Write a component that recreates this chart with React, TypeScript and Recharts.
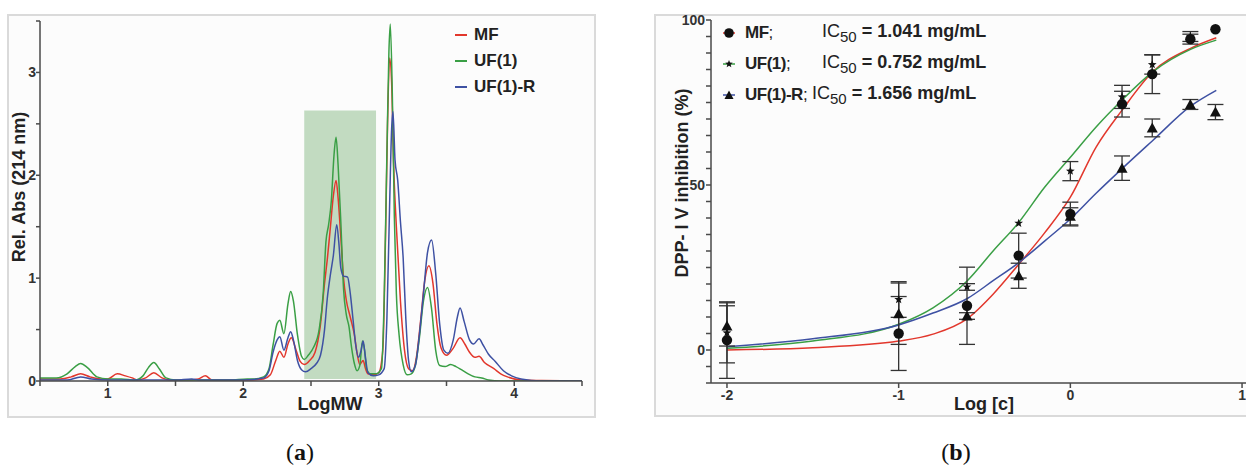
import React from "react";
import {
  LineChart,
  ComposedChart,
  Line,
  Scatter,
  ErrorBar,
  XAxis,
  YAxis,
  ReferenceArea,
} from "recharts";

// ---- panel (a): SEC chromatograms, [logMW, rel. abs] ----
const mfTrace = [
  [0.5, 0.02], [0.65, 0.02], [0.73, 0.04], [0.8, 0.07], [0.87, 0.04], [0.95, 0.02], [1.0, 0.02],
  [1.07, 0.07], [1.13, 0.05], [1.18, 0.03], [1.22, 0.01], [1.28, 0.03], [1.34, 0.08], [1.4, 0.03],
  [1.46, 0.01], [1.6, 0.01], [1.67, 0.02], [1.72, 0.05], [1.77, 0.01], [1.9, 0.01], [2.05, 0.01],
  [2.15, 0.02], [2.2, 0.06], [2.24, 0.2], [2.27, 0.29], [2.3, 0.23], [2.33, 0.36], [2.355, 0.42],
  [2.39, 0.3], [2.42, 0.19], [2.45, 0.16], [2.49, 0.2], [2.53, 0.28], [2.57, 0.55], [2.6, 0.95],
  [2.62, 1.18], [2.64, 1.45], [2.665, 1.8], [2.685, 1.95], [2.7, 1.78], [2.72, 1.4], [2.74, 1.0],
  [2.76, 0.79], [2.79, 0.62], [2.82, 0.45], [2.84, 0.27], [2.86, 0.16], [2.885, 0.2], [2.9, 0.13],
  [2.92, 0.07], [2.96, 0.06], [3.0, 0.08], [3.03, 0.3], [3.05, 1.4], [3.065, 2.5], [3.08, 3.14],
  [3.095, 2.9], [3.11, 2.1], [3.13, 1.5], [3.16, 0.78], [3.19, 0.3], [3.22, 0.12], [3.25, 0.1],
  [3.28, 0.25], [3.31, 0.6], [3.34, 0.98], [3.37, 1.12], [3.4, 0.95], [3.43, 0.55], [3.46, 0.32],
  [3.5, 0.25], [3.55, 0.32], [3.6, 0.42], [3.635, 0.36], [3.67, 0.28], [3.71, 0.23], [3.74, 0.24],
  [3.78, 0.18], [3.85, 0.12], [3.9, 0.07], [3.95, 0.04], [4.05, 0.01], [4.2, 0.005], [4.5, 0],
];

const uf1Trace = [
  [0.5, 0.03], [0.62, 0.03], [0.7, 0.07], [0.76, 0.14], [0.8, 0.17], [0.85, 0.13], [0.92, 0.04],
  [1.0, 0.02], [1.1, 0.02], [1.2, 0.01], [1.26, 0.05], [1.3, 0.13], [1.34, 0.18], [1.38, 0.12],
  [1.43, 0.03], [1.5, 0.01], [1.7, 0.01], [1.9, 0.01], [2.03, 0.02], [2.08, 0.02], [2.15, 0.04],
  [2.19, 0.12], [2.22, 0.35], [2.25, 0.56], [2.27, 0.59], [2.3, 0.46], [2.33, 0.75], [2.35, 0.87],
  [2.37, 0.78], [2.4, 0.45], [2.43, 0.24], [2.45, 0.21], [2.48, 0.25], [2.52, 0.33], [2.56, 0.5],
  [2.59, 0.85], [2.61, 1.35], [2.63, 1.52], [2.65, 1.75], [2.67, 2.2], [2.685, 2.37], [2.7, 2.1],
  [2.72, 1.55], [2.74, 0.9], [2.76, 0.65], [2.78, 0.53], [2.8, 0.32], [2.82, 0.17], [2.84, 0.1],
  [2.86, 0.15], [2.88, 0.39], [2.895, 0.3], [2.91, 0.12], [2.94, 0.07], [2.98, 0.07], [3.02, 0.12],
  [3.04, 0.8], [3.06, 2.2], [3.075, 3.2], [3.085, 3.47], [3.1, 2.8], [3.115, 1.6], [3.13, 0.85],
  [3.15, 0.45], [3.18, 0.16], [3.21, 0.06], [3.24, 0.07], [3.27, 0.15], [3.3, 0.42], [3.33, 0.78],
  [3.36, 0.91], [3.39, 0.7], [3.42, 0.3], [3.45, 0.15], [3.49, 0.14], [3.53, 0.16], [3.57, 0.14],
  [3.61, 0.11], [3.66, 0.07], [3.71, 0.04], [3.76, 0.03], [3.81, 0.01], [3.9, 0], [4.5, 0],
];

const uf1rTrace = [
  [0.5, 0.01], [0.7, 0.01], [0.8, 0.04], [0.88, 0.02], [1.0, 0.01], [1.1, 0.01], [1.34, 0.01],
  [1.5, 0.01], [1.62, 0.02], [1.68, 0.01], [1.8, 0.01], [2.0, 0.01], [2.15, 0.03], [2.19, 0.1],
  [2.22, 0.28], [2.25, 0.4], [2.27, 0.43], [2.3, 0.3], [2.33, 0.42], [2.35, 0.48], [2.37, 0.4],
  [2.4, 0.2], [2.43, 0.11], [2.46, 0.09], [2.5, 0.12], [2.54, 0.17], [2.57, 0.25], [2.6, 0.5],
  [2.62, 0.8], [2.645, 1.05], [2.665, 1.22], [2.69, 1.52], [2.705, 1.35], [2.72, 1.1], [2.74, 1.02],
  [2.77, 1.01], [2.79, 0.85], [2.81, 0.6], [2.83, 0.35], [2.85, 0.23], [2.87, 0.3], [2.885, 0.39],
  [2.9, 0.25], [2.92, 0.08], [2.96, 0.05], [3.0, 0.06], [3.04, 0.12], [3.06, 0.6], [3.08, 1.7],
  [3.095, 2.45], [3.105, 2.62], [3.12, 2.15], [3.14, 1.95], [3.16, 1.55], [3.18, 1.2], [3.2, 0.6],
  [3.22, 0.2], [3.24, 0.09], [3.27, 0.15], [3.3, 0.45], [3.33, 0.85], [3.36, 1.25], [3.39, 1.37],
  [3.42, 1.05], [3.45, 0.55], [3.48, 0.3], [3.51, 0.27], [3.55, 0.4], [3.58, 0.62], [3.6, 0.71],
  [3.63, 0.58], [3.67, 0.4], [3.7, 0.36], [3.74, 0.41], [3.77, 0.35], [3.81, 0.26], [3.86, 0.19],
  [3.92, 0.1], [3.98, 0.05], [4.05, 0.02], [4.2, 0], [4.5, 0],
];

const activeRange = [2.45, 2.98];
const activeTop = 2.63;
const logMwTicks = [0.5, 1, 1.5, 2, 2.5, 3, 3.5, 4, 4.5];

// ---- panel (b): DPP-IV inhibition ----
const logC = [-2, -1, -0.602, -0.301, 0, 0.301, 0.477, 0.699, 0.845];
const mfMean = [3.0, 5.0, 13.4, 28.6, 41.2, 74.5, 83.6, 94.2, 97.2];
const mfErr = [11.6, 11.2, 11.7, 6.8, 3.6, 3.9, 5.9, 1.5, 0];
const uf1Mean = [5.2, 15.3, 19.1, 38.4, 54.2, 76.7, 86.5, 95.0];
const uf1Err = [9.1, 5.4, 1.0, 0, 2.9, 3.5, 2.9, 1.5];
const uf1rMean = [7.3, 11.0, 10.3, 22.5, 40.5, 55.1, 67.3, 74.4, 72.1];
const uf1rErr = [6.1, 9.3, 1.0, 3.8, 2.6, 3.7, 2.7, 1.5, 2.3];

const fitX = [-2, -1.5, -1, -0.8, -0.6, -0.45, -0.3, -0.15, 0, 0.15, 0.3, 0.48, 0.7, 0.85];
const mfFit = [0, 0.7, 2.7, 4.8, 9.5, 16.9, 26, 35.5, 46.3, 61.5, 72.6, 84.3, 91.4, 94.6];
const uf1Fit = [0.5, 2.7, 7.8, 12.8, 21, 30, 38.7, 49.3, 58.4, 67.6, 75.7, 84.3, 91.1, 93.9];
const uf1rFit = [1.0, 3.4, 7.6, 11.2, 15.6, 21, 26.5, 33, 39.7, 47.5, 54.9, 63.5, 73.9, 78.7];

const RED = "#e2372c";
const GREEN = "#3a9f45";
const BLUE = "#3e51a3";
const AXIS = "#4a4a4a";
const SANS = "'Liberation Sans', Arial, sans-serif";

const toPts = (arr: number[][]) => arr.map(([x, y]) => ({ x, y }));
const zipPts = (xs: number[], ys: number[], es?: number[]) =>
  ys.map((y, i) => ({ x: xs[i], y, e: es ? es[i] : 0 }));

const stepTicks = (a: number, b: number, step: number) => {
  const out: number[] = [];
  for (let v = a; v <= b + 1e-9; v += step) out.push(Math.round(v * 100) / 100);
  return out;
};

const tickStyle = { fontFamily: SANS, fontSize: 14, fontWeight: 700, fill: "#333" };
const intOnly = (v: number) => (Math.abs(v - Math.round(v)) < 1e-6 ? String(Math.round(v)) : "");
const bLabels = (v: number) => (v === 0 || v === 50 || v === 100 ? String(v) : "");

// x tick for panel a: label whole numbers, leave half steps blank
const renderLogMwTick = (props: any) => {
  const { x, y, payload } = props;
  const label = intOnly(Number(payload.value));
  return (
    <text key={`t-${payload.value}`} x={x} y={y} dy="0.71em" textAnchor="middle" {...tickStyle}>
      {label}
    </text>
  );
};

// marker shapes (pixel sizes only)
const dotShape = (p: any) => <circle cx={p.cx} cy={p.cy} r={5.2} fill="#111" />;
const triShape = (p: any) => (
  <polygon
    points={`${p.cx},${p.cy - 5.5} ${p.cx + 5.5},${p.cy + 4.5} ${p.cx - 5.5},${p.cy + 4.5}`}
    fill="#111"
  />
);
const starPoints = (cx: number, cy: number, R: number, r: number) => {
  const pts: string[] = [];
  for (let k = 0; k < 10; k++) {
    const a = -Math.PI / 2 + (k * Math.PI) / 5;
    const rad = k % 2 === 0 ? R : r;
    pts.push(`${(cx + rad * Math.cos(a)).toFixed(2)},${(cy + rad * Math.sin(a)).toFixed(2)}`);
  }
  return pts.join(" ");
};
const starShape = (p: any) => <polygon points={starPoints(p.cx, p.cy, 4.6, 1.9)} fill="#111" />;

function ChromPanel() {
  return (
    <LineChart
      width={600}
      height={430}
      margin={{ top: 21, right: 18, bottom: 19, left: 10 }}
    >
      <XAxis
        type="number"
        dataKey="x"
        domain={[0.5, 4.5]}
        ticks={logMwTicks}
        interval={0}
        minTickGap={0}
        allowDataOverflow
        height={30}
        stroke={AXIS}
        strokeWidth={1.5}
        tickSize={5}
        tickMargin={2}
        tick={renderLogMwTick}
      />
      <YAxis
        type="number"
        dataKey="y"
        domain={[0, 3.5]}
        ticks={stepTicks(0, 3.5, 0.5)}
        interval={0}
        allowDataOverflow
        width={30}
        stroke={AXIS}
        strokeWidth={1.5}
        tickSize={4}
        tickMargin={0}
        tick={tickStyle}
        tickFormatter={intOnly}
      />
      <ReferenceArea
        x1={activeRange[0]}
        x2={activeRange[1]}
        y1={0.02}
        y2={activeTop}
        fill="#c2dbc1"
        fillOpacity={1}
        stroke="none"
        ifOverflow="visible"
      />
      <Line data={toPts(mfTrace)} dataKey="y" type="monotone" stroke={RED} strokeWidth={1.5} dot={false} isAnimationActive={false} />
      <Line data={toPts(uf1Trace)} dataKey="y" type="monotone" stroke={GREEN} strokeWidth={1.5} dot={false} isAnimationActive={false} />
      <Line data={toPts(uf1rTrace)} dataKey="y" type="monotone" stroke={BLUE} strokeWidth={1.5} dot={false} isAnimationActive={false} />
    </LineChart>
  );
}

function DoseRespPanel() {
  return (
    <ComposedChart
      width={606}
      height={430}
      margin={{ top: 20, right: 0, bottom: 17, left: 31 }}
    >
      <XAxis
        type="number"
        dataKey="x"
        domain={[-2.093, 1.023]}
        ticks={[-2, -1, 0, 1]}
        interval={0}
        allowDataOverflow
        height={30}
        stroke={AXIS}
        strokeWidth={1.5}
        tickSize={5}
        tickMargin={2}
        tick={tickStyle}
      />
      <YAxis
        type="number"
        dataKey="y"
        domain={[-10, 100]}
        ticks={stepTicks(-10, 100, 5)}
        interval={0}
        allowDataOverflow
        width={40}
        stroke={AXIS}
        strokeWidth={1.5}
        tickSize={5}
        tickMargin={1}
        tick={tickStyle}
        tickFormatter={bLabels}
      />
      <Line data={zipPts(fitX, mfFit)} dataKey="y" type="monotone" stroke={RED} strokeWidth={1.5} dot={false} isAnimationActive={false} />
      <Line data={zipPts(fitX, uf1Fit)} dataKey="y" type="monotone" stroke={GREEN} strokeWidth={1.5} dot={false} isAnimationActive={false} />
      <Line data={zipPts(fitX, uf1rFit)} dataKey="y" type="monotone" stroke={BLUE} strokeWidth={1.5} dot={false} isAnimationActive={false} />
      <Scatter data={zipPts(logC, uf1rMean, uf1rErr)} dataKey="y" shape={triShape} fill="#111" isAnimationActive={false}>
        <ErrorBar dataKey="e" direction="y" width={8} stroke="#333" strokeWidth={1.3} />
      </Scatter>
      <Scatter data={zipPts(logC, uf1Mean, uf1Err)} dataKey="y" shape={starShape} fill="#111" isAnimationActive={false}>
        <ErrorBar dataKey="e" direction="y" width={8} stroke="#333" strokeWidth={1.3} />
      </Scatter>
      <Scatter data={zipPts(logC, mfMean, mfErr)} dataKey="y" shape={dotShape} fill="#111" isAnimationActive={false}>
        <ErrorBar dataKey="e" direction="y" width={8} stroke="#333" strokeWidth={1.3} />
      </Scatter>
    </ComposedChart>
  );
}

const abs = (l: number, t: number, extra: React.CSSProperties = {}): React.CSSProperties => ({
  position: "absolute",
  left: l,
  top: t,
  ...extra,
});

const legendA = [
  { name: "MF", color: RED },
  { name: "UF(1)", color: GREEN },
  { name: "UF(1)-R", color: BLUE },
];

const legendB = [
  { name: "MF", ic: "1.041", color: RED, mark: "circle", icLeft: 822 },
  { name: "UF(1)", ic: "0.752", color: GREEN, mark: "star", icLeft: 822 },
  { name: "UF(1)-R", ic: "1.656", color: BLUE, mark: "triangle", icLeft: 812 },
];

function Marker({ kind }: { kind: string }) {
  if (kind === "circle") return <circle cx={7} cy={7} r={4.8} fill="#111" />;
  if (kind === "star") return <polygon points={starPoints(7, 7, 4, 1.7)} fill="#111" />;
  return <polygon points="7,2.5 11.5,11 2.5,11" fill="#111" />;
}

export default function App() {
  const bold = { fontFamily: SANS, fontWeight: 700, color: "#222" };
  return (
    <div style={{ position: "fixed", left: 0, top: 0, width: 1246, height: 468, background: "#fff", overflow: "hidden" }}>
      {/* frames */}
      <div style={abs(7, 14, { width: 585, height: 400, border: "2px solid #dadada", background: "#fcfcfc", zIndex: 0 })} />
      <div style={abs(654, 14, { width: 600, height: 399, border: "2px solid #dadada", background: "#fcfcfc", zIndex: 0 })} />

      {/* panel titles & legends sit under the charts */}
      <div style={abs(19, 187, { ...bold, fontSize: 18, whiteSpace: "nowrap", transform: "translate(-50%, -50%) rotate(-90deg)", zIndex: 1 })}>
        Rel. Abs (214 nm)
      </div>
      <div style={abs(330, 404, { ...bold, fontSize: 18, transform: "translate(-50%, -50%)", zIndex: 1 })}>LogMW</div>

      {legendA.map((d, i) => (
        <div key={d.name} style={abs(455, 35 + i * 26, { display: "flex", alignItems: "center", transform: "translateY(-50%)", zIndex: 1 })}>
          <div style={{ width: 12, height: 2, background: d.color, marginRight: 7 }} />
          <span style={{ ...bold, fontSize: 17 }}>{d.name}</span>
        </div>
      ))}

      <div style={abs(682, 183, { ...bold, fontSize: 18, whiteSpace: "nowrap", transform: "translate(-50%, -50%) rotate(-90deg)", zIndex: 1 })}>
        DPP- I V inhibition (%)
      </div>
      <div style={abs(984, 404, { ...bold, fontSize: 18, whiteSpace: "nowrap", transform: "translate(-50%, -50%)", zIndex: 1 })}>Log [c]</div>

      {legendB.map((d, i) => {
        const cy = 33 + i * 31;
        return (
          <React.Fragment key={d.name}>
            <svg width={14} height={14} style={abs(722, cy - 7, { zIndex: 1 })}>
              <line x1={1} y1={7} x2={13} y2={7} stroke={d.color} strokeWidth={1.5} />
              <Marker kind={d.mark} />
            </svg>
            <span style={abs(745, cy, { ...bold, fontSize: 17, letterSpacing: -0.5, transform: "translateY(-50%)", whiteSpace: "nowrap", zIndex: 1 })}>
              {d.name}
              <span style={{ fontWeight: 400 }}>;</span>
            </span>
            <span style={abs(d.icLeft, cy, { fontFamily: SANS, fontSize: 18, color: "#222", transform: "translateY(-50%)", whiteSpace: "nowrap", zIndex: 1 })}>
              IC<sub style={{ fontSize: 15, verticalAlign: "-5px" }}>50</sub>
              <b> = {d.ic} mg/mL</b>
            </span>
          </React.Fragment>
        );
      })}

      <div style={abs(0, 0, { zIndex: 2 })}>
        <ChromPanel />
      </div>
      <div style={abs(640, 0, { zIndex: 2 })}>
        <DoseRespPanel />
      </div>

      {/* captions */}
      <div style={abs(300, 452, { fontFamily: "'Liberation Serif', 'DejaVu Serif', serif", fontSize: 24, color: "#111", transform: "translate(-50%, -50%)" })}>
        (<b>a</b>)
      </div>
      <div style={abs(956, 452, { fontFamily: "'Liberation Serif', 'DejaVu Serif', serif", fontSize: 24, color: "#111", transform: "translate(-50%, -50%)" })}>
        (<b>b</b>)
      </div>
    </div>
  );
}
